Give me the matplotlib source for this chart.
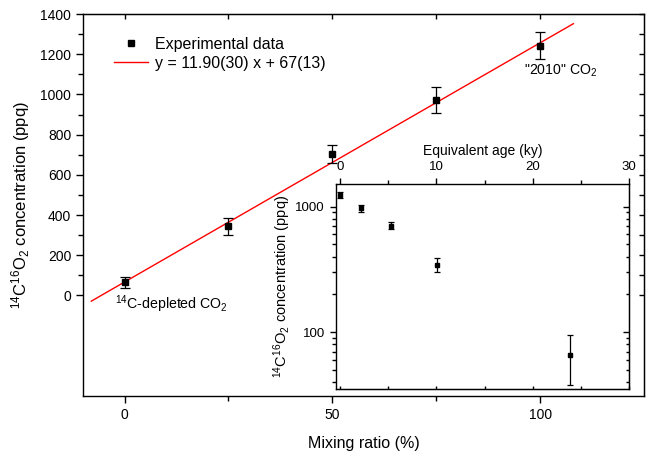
import matplotlib
matplotlib.use("Agg")
import matplotlib.pyplot as plt
import numpy as np

plt.rcParams['font.family'] = ['Liberation Sans', 'DejaVu Sans']
plt.rcParams['mathtext.default'] = 'regular'

# ---- data ----
mixing_ratio = [0, 25, 50, 75, 100]
conc = [66, 344, 703, 972, 1243]
conc_err = [28, 42, 45, 65, 67]
equiv_age = [23.9, 10.1, 5.3, 2.2, 0.0]
fit_slope = 11.90
fit_intercept = 67
fit_x = [-8, 108]
fit_label = "y = 11.90(30) x + 67(13)"
ylabel = "$^{14}$C$^{16}$O$_2$ concentration (ppq)"

fig = plt.figure(figsize=(6.5, 4.54), dpi=100)
ax = fig.add_axes([0.1277, 0.1278, 0.8631, 0.8412])

fx = np.array(fit_x, dtype=float)
ax.plot(fx, fit_slope * fx + fit_intercept, color='#ff0000', lw=1.0, label=fit_label, zorder=2)
ax.errorbar(mixing_ratio, conc, yerr=conc_err, fmt='s', color='black', ms=4.5,
            elinewidth=0.9, capsize=3.5, capthick=0.9, zorder=3)
hdata, = ax.plot([], [], 's', color='black', ms=4.5, label='Experimental data')

ax.set_xlim(-10, 125)
ax.set_ylim(-500, 1400)
ax.set_xticks([0, 50, 100])
ax.set_xticks([25, 75], minor=True)
ax.set_yticks(np.arange(0, 1401, 200))
ax.set_yticks(np.arange(100, 1400, 200), minor=True)
ax.tick_params(which='major', direction='out', length=5, width=1.0, labelsize=10)
ax.tick_params(which='minor', direction='out', length=3.5, width=1.0)
for s in ax.spines.values():
    s.set_linewidth(1.0)
ax.set_xlabel("Mixing ratio (%)", fontsize=11.5, labelpad=10)
ax.set_ylabel(ylabel, fontsize=12, labelpad=6)

sx = ax.secondary_xaxis('top')
sx.set_xticks([0, 25, 50, 75, 100])
sx.tick_params(direction='in', length=3.5, width=1.0, labeltop=False)
sy = ax.secondary_yaxis('right')
sy.set_yticks(np.arange(0, 1401, 100))
sy.tick_params(direction='in', length=3.5, width=1.0, labelright=False)

ax.legend(handles=[hdata, ax.lines[0]], labels=['Experimental data', fit_label],
          loc='upper left', bbox_to_anchor=(0.055, 0.94), frameon=False, fontsize=11.5,
          handlelength=2.15, handletextpad=0.45, labelspacing=0.25, borderpad=0, borderaxespad=0)

ax.text(-2.4, 12, "$^{14}$C-depleted CO$_2$", fontsize=10.2, va='top', ha='left')
ax.text(96.2, 1158, "\"2010\" CO$_2$", fontsize=10.2, va='top', ha='left')

# ---- inset ----
ax2 = fig.add_axes([0.517, 0.1425, 0.451, 0.452])
ax2.set_facecolor('white')
ax2.errorbar(equiv_age, conc, yerr=conc_err, fmt='s', color='black', ms=3.5,
             elinewidth=0.9, capsize=2.5, capthick=0.9)
ax2.set_yscale('log')
ax2.set_xlim(-0.4, 30)
ax2.set_ylim(35, 1510)
ax2.xaxis.tick_top()
ax2.xaxis.set_label_position('top')
ax2.set_xticks([0, 10, 20, 30])
ax2.set_xticks([5, 15, 25], minor=True)
ax2.set_yticks([100, 1000])
ax2.set_yticklabels(['100', '1000'])
ax2.tick_params(which='major', direction='out', length=4.5, width=1.0, labelsize=9.5)
ax2.tick_params(which='minor', direction='out', length=3, width=1.0)
for s in ax2.spines.values():
    s.set_linewidth(1.0)
ax2.set_xlabel("Equivalent age (ky)", fontsize=10, labelpad=4)
ax2.set_ylabel(ylabel, fontsize=10.5, labelpad=2)

bx = ax2.secondary_xaxis('bottom')
bx.set_xticks([0, 5, 10, 15, 20, 25, 30])
bx.tick_params(direction='in', length=2.5, width=1.0, labelbottom=False)
ry = ax2.secondary_yaxis('right')
ry.tick_params(which='both', direction='in', length=2.5, width=1.0, labelright=False)
ry.tick_params(which='major', length=4)

fig.savefig('out.png', dpi=100)
